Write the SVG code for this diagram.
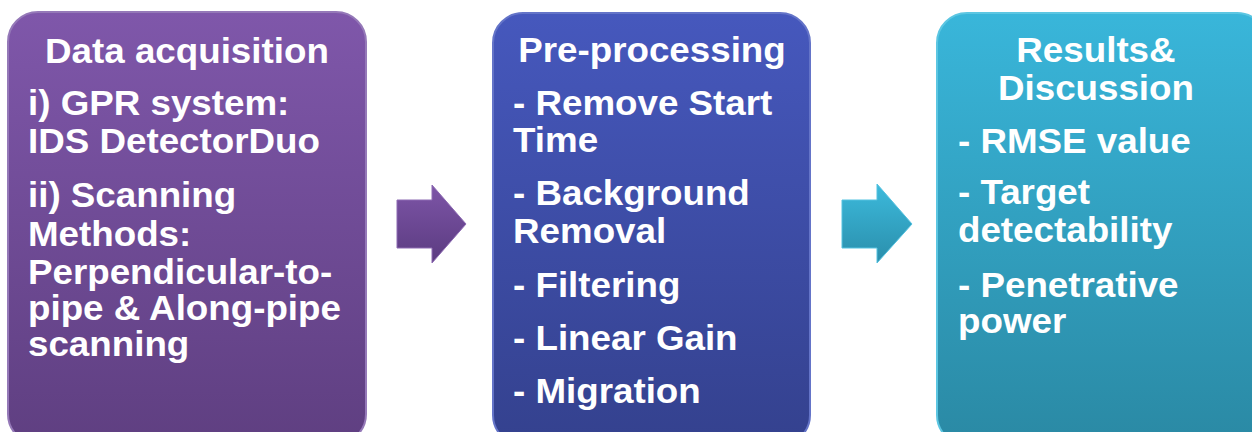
<svg xmlns="http://www.w3.org/2000/svg" width="1252" height="432" viewBox="0 0 1252 432">
<defs>
<linearGradient id="gP" x1="0" y1="0" x2="0" y2="1"><stop offset="0" stop-color="#7f57aa"/><stop offset="1" stop-color="#5f3f81"/></linearGradient>
<linearGradient id="gB" x1="0" y1="0" x2="0" y2="1"><stop offset="0" stop-color="#4658bd"/><stop offset="1" stop-color="#34418e"/></linearGradient>
<linearGradient id="gT" x1="0" y1="0" x2="0" y2="1"><stop offset="0" stop-color="#39b6da"/><stop offset="1" stop-color="#2a89a4"/></linearGradient>
<linearGradient id="aP" x1="0" y1="0" x2="0" y2="1"><stop offset="0" stop-color="#7d55a7"/><stop offset="1" stop-color="#5b3b80"/></linearGradient>
<linearGradient id="aT" x1="0" y1="0" x2="0" y2="1"><stop offset="0" stop-color="#3cbadc"/><stop offset="1" stop-color="#2a8eab"/></linearGradient>
</defs>
<style>
.box{stroke-width:2}
.t{font-family:"Liberation Sans",Arial,sans-serif;font-weight:bold;font-size:35px;fill:#ffffff}
.c{text-anchor:middle}
</style>
<g id="connectors">
<path d="M397,200 H432 V185 L466,224 L432,263 V248 H397 Z" fill="url(#aP)" stroke="#8d6ab3" stroke-width="1"/>
<path d="M842,200 H877 V184 L912,224 L877,263 V248 H842 Z" fill="url(#aT)" stroke="#55c2e0" stroke-width="1"/>
</g>
<g id="node-data-acquisition">
<rect class="box" x="8" y="12" width="358" height="432" rx="30" fill="url(#gP)" stroke="#9579b8"/>
<g transform="translate(28,0) scale(1.05,1)">
<text class="t c" x="151.4" y="63">Data acquisition</text>
<text class="t" x="0" y="115">i) GPR system:</text>
<text class="t" x="0" y="153">IDS DetectorDuo</text>
<text class="t" x="0" y="207">ii) Scanning</text>
<text class="t" x="0" y="246">Methods:</text>
<text class="t" x="0" y="284">Perpendicular-to-</text>
<text class="t" x="0" y="320">pipe &amp; Along-pipe</text>
<text class="t" x="0" y="356">scanning</text>
</g>
</g>
<g id="node-pre-processing">
<rect class="box" x="493" y="13" width="317" height="432" rx="30" fill="url(#gB)" stroke="#6474c8"/>
<g transform="translate(513,0) scale(1.05,1)">
<text class="t c" x="132.4" y="62">Pre-processing</text>
<text class="t" x="0" y="115">- Remove Start</text>
<text class="t" x="0" y="152">Time</text>
<text class="t" x="0" y="205">- Background</text>
<text class="t" x="0" y="243">Removal</text>
<text class="t" x="0" y="297">- Filtering</text>
<text class="t" x="0" y="350">- Linear Gain</text>
<text class="t" x="0" y="403">- Migration</text>
</g>
</g>
<g id="node-results">
<rect class="box" x="937" y="13" width="330" height="432" rx="30" fill="url(#gT)" stroke="#5cc6e2"/>
<g transform="translate(958,0) scale(1.05,1)">
<text class="t c" x="131.4" y="62">Results&amp;</text>
<text class="t c" x="131.4" y="100">Discussion</text>
<text class="t" x="0" y="153">- RMSE value</text>
<text class="t" x="0" y="204">- Target</text>
<text class="t" x="0" y="242">detectability</text>
<text class="t" x="0" y="297">- Penetrative</text>
<text class="t" x="0" y="333">power</text>
</g>
</g>
</svg>
